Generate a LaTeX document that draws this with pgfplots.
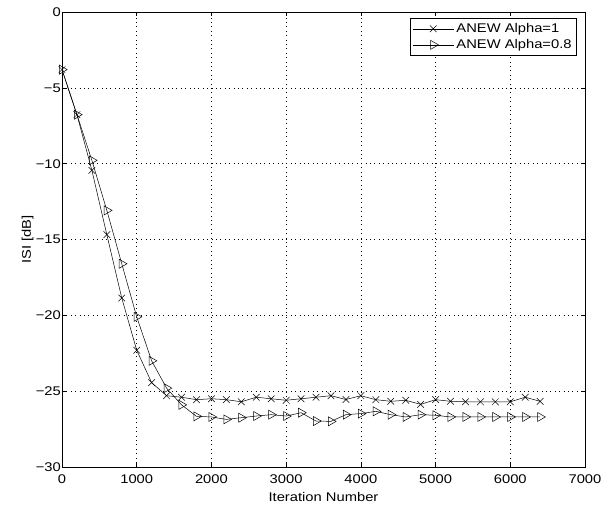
\documentclass[border=0pt]{standalone}
\usepackage{pgfplots}
\pgfplotsset{compat=1.18}
\usetikzlibrary{calc}
\usepackage{fontspec}
\setmainfont{Liberation Sans}[FakeStretch=1.17]
\begin{document}
\fontsize{12.6}{14}\selectfont
\begin{tikzpicture}
\begin{axis}[
  scale only axis,
  width=523pt, height=455pt,
  xmin=0, xmax=7000, ymin=-30, ymax=0,
  xtick={0,1000,...,7000}, ytick={-30,-25,...,0},
  yticklabels={−30,−25,−20,−15,−10,−5,0},
  scaled x ticks=false,
  /pgf/number format/assume math mode=true,
  /pgf/number format/set thousands separator={},
  tick label style={font=\fontsize{12.6}{14}\selectfont},
  label style={font=\fontsize{12.6}{14}\selectfont},
  yticklabel style={inner sep=1pt},
  xticklabel style={yshift=-3pt},
  xlabel={Iteration Number}, ylabel={ISI [dB]},
  xlabel style={yshift=0pt},
  ylabel style={yshift=-3pt},
  grid=major,
  major grid style={black, dash pattern=on 0.6pt off 3.8pt, line width=0.5pt},
  tick align=inside,
  major tick length=4pt,
  axis line style={black, line width=0.5pt},
  every tick/.style={black, line width=0.5pt},
  legend style={at={(0.983,0.985)}, anchor=north east, draw=black, line width=0.7pt,
    font=\fontsize{12.6}{14}\selectfont, inner sep=2.5pt, row sep=1pt, outer sep=0pt},
  legend cell align=left,
  legend image code/.code={
    \draw[mark repeat=2,mark phase=2] plot coordinates {(0pt,0pt) (20pt,0pt) (41pt,0pt)};
  },
]
\addplot[black, line width=0.5pt, mark=x, mark size=4.7pt, mark options={line width=0.5pt}] coordinates {
(0,-3.8) (200,-6.77) (400,-10.44) (600,-14.68) (800,-18.86) (1000,-22.3) (1200,-24.44) (1400,-25.3)
(1600,-25.4) (1800,-25.56) (2000,-25.5) (2200,-25.56) (2400,-25.7) (2600,-25.4) (2800,-25.5) (3000,-25.6)
(3200,-25.5) (3400,-25.4) (3600,-25.3) (3800,-25.55) (4000,-25.3) (4200,-25.56) (4400,-25.67) (4600,-25.6)
(4800,-25.87) (5000,-25.56) (5200,-25.67) (5400,-25.7) (5600,-25.7) (5800,-25.7) (6000,-25.7) (6200,-25.4) (6400,-25.67)
};
\addlegendentry{ANEW Alpha=1}
\addplot[black, line width=0.5pt, mark=triangle, mark size=5.2pt, mark options={rotate=-90, line width=0.5pt, fill=none}] coordinates {
(0,-3.8) (200,-6.77) (400,-9.78) (600,-13.08) (800,-16.6) (1000,-20.1) (1200,-23.0) (1400,-24.8)
(1600,-25.9) (1800,-26.66) (2000,-26.7) (2200,-26.86) (2400,-26.75) (2600,-26.64) (2800,-26.55) (3000,-26.64)
(3200,-26.42) (3400,-26.97) (3600,-26.99) (3800,-26.55) (4000,-26.48) (4200,-26.33) (4400,-26.55) (4600,-26.7)
(4800,-26.55) (5000,-26.59) (5200,-26.7) (5400,-26.7) (5600,-26.7) (5800,-26.7) (6000,-26.7) (6200,-26.7) (6400,-26.7)
};
\addlegendentry{ANEW Alpha=0.8}
\end{axis}
\path ($(current axis.south west)+(-62pt,-41pt)$) rectangle ($(current axis.north east)+(26pt,12pt)$);
\end{tikzpicture}
\end{document}
